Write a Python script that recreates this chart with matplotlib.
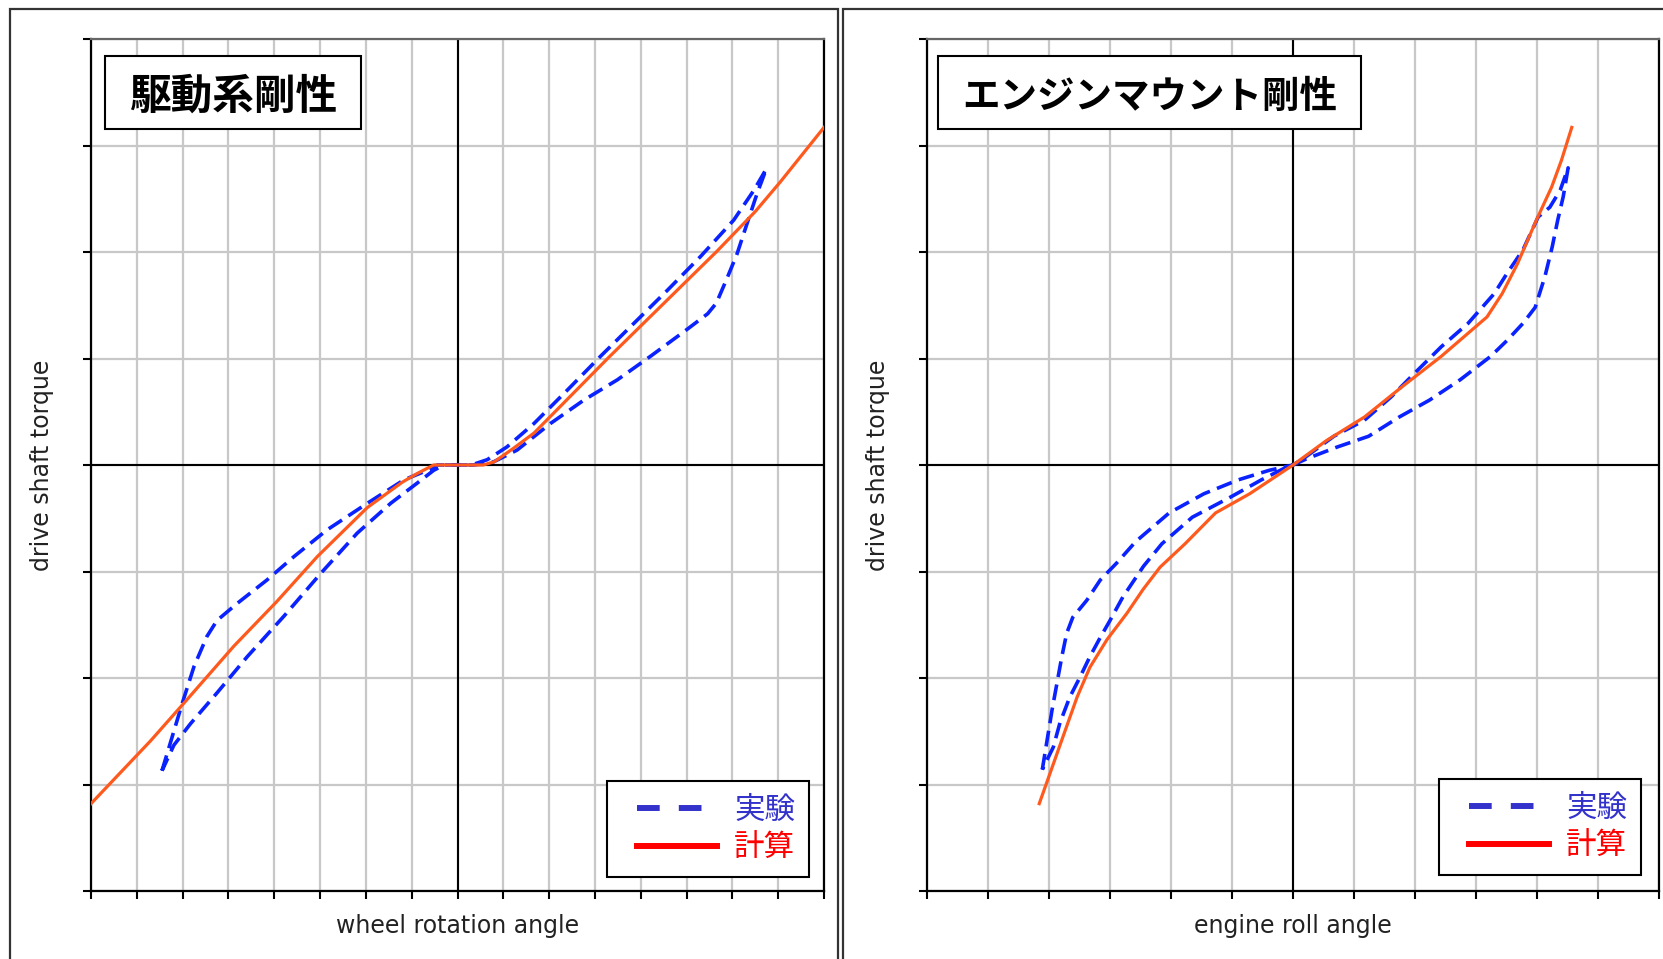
import numpy as np
import matplotlib.pyplot as plt
from matplotlib.lines import Line2D
from matplotlib.patches import Rectangle
from matplotlib.legend_handler import HandlerLine2D

plt.rcParams['font.family'] = ['DejaVu Sans']
cjk = ['Noto Sans CJK JP', 'DejaVu Sans']

# 駆動系剛性 (左)
drv_calc_x = [-8.0, -6.70, -5.98, -4.88, -3.94, -3.06, -1.97, -1.20, -0.88, -0.52, 0.56, 0.80, 1.20,
              1.67, 3.30, 4.58, 5.67, 6.50, 7.05, 8.0]
drv_calc_y = [-3.18, -2.59, -2.24, -1.70, -1.28, -0.86, -0.40, -0.16, -0.08, 0.0, 0.0, 0.03, 0.15,
              0.30, 1.01, 1.55, 2.01, 2.38, 2.66, 3.17]

drv_exp_x = [-6.45, -6.01, -5.75, -5.47, -5.25, -4.81, -4.16, -3.57, -2.85, -1.97, -1.17, -0.66, -0.44,
             0.30, 0.65, 1.08, 1.67, 2.39, 3.12, 3.85, 4.58, 5.31, 6.03, 6.47, 6.74,
             6.54, 6.33, 6.10, 5.88, 5.65, 5.46, 5.00, 4.21, 3.49, 2.76, 2.03, 1.30, 0.79, 0.36,
             -0.30, -0.52, -0.88, -1.46, -2.19, -2.99, -3.79, -4.59, -5.25, -5.83, -6.19, -6.45]
drv_exp_y = [-2.87, -2.24, -1.89, -1.61, -1.46, -1.30, -1.08, -0.86, -0.61, -0.36, -0.14, -0.05, 0.0,
             0.0, 0.05, 0.17, 0.39, 0.70, 1.02, 1.33, 1.64, 1.96, 2.30, 2.58, 2.78,
             2.55, 2.28, 1.98, 1.75, 1.52, 1.42, 1.27, 1.02, 0.80, 0.61, 0.39, 0.14, 0.03, 0.0,
             0.0, -0.05, -0.17, -0.36, -0.64, -1.02, -1.42, -1.80, -2.14, -2.43, -2.63, -2.87]

# エンジンマウント剛性 (右)
mnt_calc_x = [-4.16, -3.98, -3.77, -3.54, -3.33, -3.05, -2.72, -2.46, -2.18, -1.77, -1.27, -0.71, 0.0,
              0.55, 1.17, 1.80, 2.43, 3.18, 3.43, 3.68, 3.99, 4.24, 4.40, 4.57]
mnt_calc_y = [-3.18, -2.89, -2.55, -2.18, -1.90, -1.64, -1.39, -1.17, -0.96, -0.74, -0.45, -0.27, 0.0,
              0.23, 0.45, 0.74, 1.02, 1.39, 1.61, 1.89, 2.30, 2.61, 2.86, 3.17]

mnt_exp_x = [-4.11, -4.03, -3.95, -3.87, -3.79, -3.71, -3.61, -3.38, -3.16, -2.89, -2.58, -2.03, -1.46,
             -0.90, -0.39, 0.0,
             0.17, 0.67, 1.17, 1.61, 1.99, 2.43, 2.87, 3.30, 3.51, 3.77, 4.02, 4.21, 4.38, 4.51,
             4.43, 4.34, 4.25, 4.13, 3.97, 3.77, 3.51, 3.24, 2.74, 2.24, 1.74, 1.24, 0.73, 0.23, 0.0,
             -0.14, -0.52, -1.02, -1.65, -2.15, -2.45, -2.79, -3.00, -3.16, -3.33, -3.49, -3.66,
             -3.82, -3.93, -4.11]
mnt_exp_y = [-2.86, -2.58, -2.30, -2.05, -1.80, -1.58, -1.43, -1.27, -1.08, -0.92, -0.72, -0.45, -0.27,
             -0.14, -0.05, 0.0,
             0.06, 0.27, 0.42, 0.64, 0.86, 1.11, 1.33, 1.61, 1.80, 2.02, 2.33, 2.42, 2.58, 2.79,
             2.52, 2.30, 2.05, 1.77, 1.48, 1.33, 1.17, 1.02, 0.80, 0.61, 0.45, 0.27, 0.17, 0.06, 0.0,
             -0.03, -0.14, -0.30, -0.49, -0.74, -0.95, -1.24, -1.46, -1.62, -1.80, -1.99, -2.18,
             -2.42, -2.65, -2.86]

titles = ['駆動系剛性', 'エンジンマウント剛性']
xlabels = ['wheel rotation angle', 'engine roll angle']
ylabel = 'drive shaft torque'
legend_labels = ['実験', '計算']

exp_color = '#0a22ff'
calc_color = '#ff5a1e'

fig = plt.figure(figsize=(16.63, 9.59), dpi=100)

# パネルの枠
fig.patches.append(Rectangle((10 / 1663, -0.02), 828 / 1663, 1 - 9 / 959 + 0.02, transform=fig.transFigure,
                             fill=False, ec='#333333', lw=1.6))
fig.patches.append(Rectangle((843 / 1663, -0.02), 0.5, 1 - 9 / 959 + 0.02, transform=fig.transFigure,
                             fill=False, ec='#333333', lw=1.6))

ax1 = fig.add_axes([91 / 1663, 68 / 959, 733 / 1663, 852 / 959])
ax2 = fig.add_axes([927 / 1663, 68 / 959, 732 / 1663, 852 / 959])

panels = [
    (ax1, 8, drv_calc_x, drv_calc_y, drv_exp_x, drv_exp_y, (0.0191, 0.3493, 30), (0.9795, 0.0164)),
    (ax2, 6, mnt_calc_x, mnt_calc_y, mnt_exp_x, mnt_exp_y, (0.0150, 0.578, 27), (0.9754, 0.0188)),
]

for i, (ax, xm, cx, cy, ex, ey, tbox, legpos) in enumerate(panels):
    ax.set_xlim(-xm, xm)
    ax.set_ylim(-4, 4)
    ax.set_xticks(np.arange(-xm, xm + 1))
    ax.set_yticks(np.arange(-4, 5))
    ax.set_xticklabels([])
    ax.set_yticklabels([])
    ax.grid(True, color='#c8c8c8', lw=1.6)
    ax.set_axisbelow(True)
    ax.tick_params(direction='out', length=6, width=1.5, color='black')
    ax.axhline(0, color='black', lw=1.5, zorder=1.5)
    ax.axvline(0, color='black', lw=1.5, zorder=1.5)
    for s in ['left', 'bottom', 'right']:
        ax.spines[s].set_linewidth(1.6)
        ax.spines[s].set_color('black')
    ax.spines['top'].set_linewidth(1.6)
    ax.spines['top'].set_color('#666666')

    ax.plot(ex, ey, color=exp_color, lw=2.6, ls=(0, (4.4, 2.1)), zorder=3)
    ax.plot(cx, cy, color=calc_color, lw=2.3, zorder=4)

    ax.set_xlabel(xlabels[i], fontsize=17, color='#222222')
    ax.xaxis.set_label_coords(0.5, -0.041)
    ax.xaxis.label.set_va('center')
    ax.set_ylabel(ylabel, fontsize=17, color='#222222')
    ax.yaxis.set_label_coords(-0.067, 0.5)
    ax.yaxis.label.set_va('center')

    x0, w, fs = tbox
    ax.add_patch(Rectangle((x0, 0.894), w, 0.0857, transform=ax.transAxes, fc='white',
                           ec='black', lw=1.5, zorder=10))
    ax.text(x0 + w / 2, 0.894 + 0.0857 / 2 - 0.004, titles[i], transform=ax.transAxes, family=cjk,
            fontsize=fs, fontweight='bold', ha='center', va='center', zorder=11)

    handles = [Line2D([], [], color='#3333cc', lw=4.3, ls=(0, (3.8, 3.2))),
               Line2D([], [], color='#ff0000', lw=4.3)]
    leg = ax.legend(handles, legend_labels, loc='lower right', bbox_to_anchor=legpos,
                    borderaxespad=0, prop={'family': cjk, 'size': 22}, handlelength=3.15,
                    handletextpad=0.56, borderpad=0.45, labelspacing=0.22, fancybox=False,
                    framealpha=1, edgecolor='black',
                    handler_map={Line2D: HandlerLine2D(xpad=0.54)})
    leg.get_frame().set_linewidth(1.5)
    leg.set_zorder(12)
    leg.get_texts()[0].set_color('#3333cc')
    leg.get_texts()[1].set_color('#ff0000')

fig.savefig('out.png', dpi=100)
